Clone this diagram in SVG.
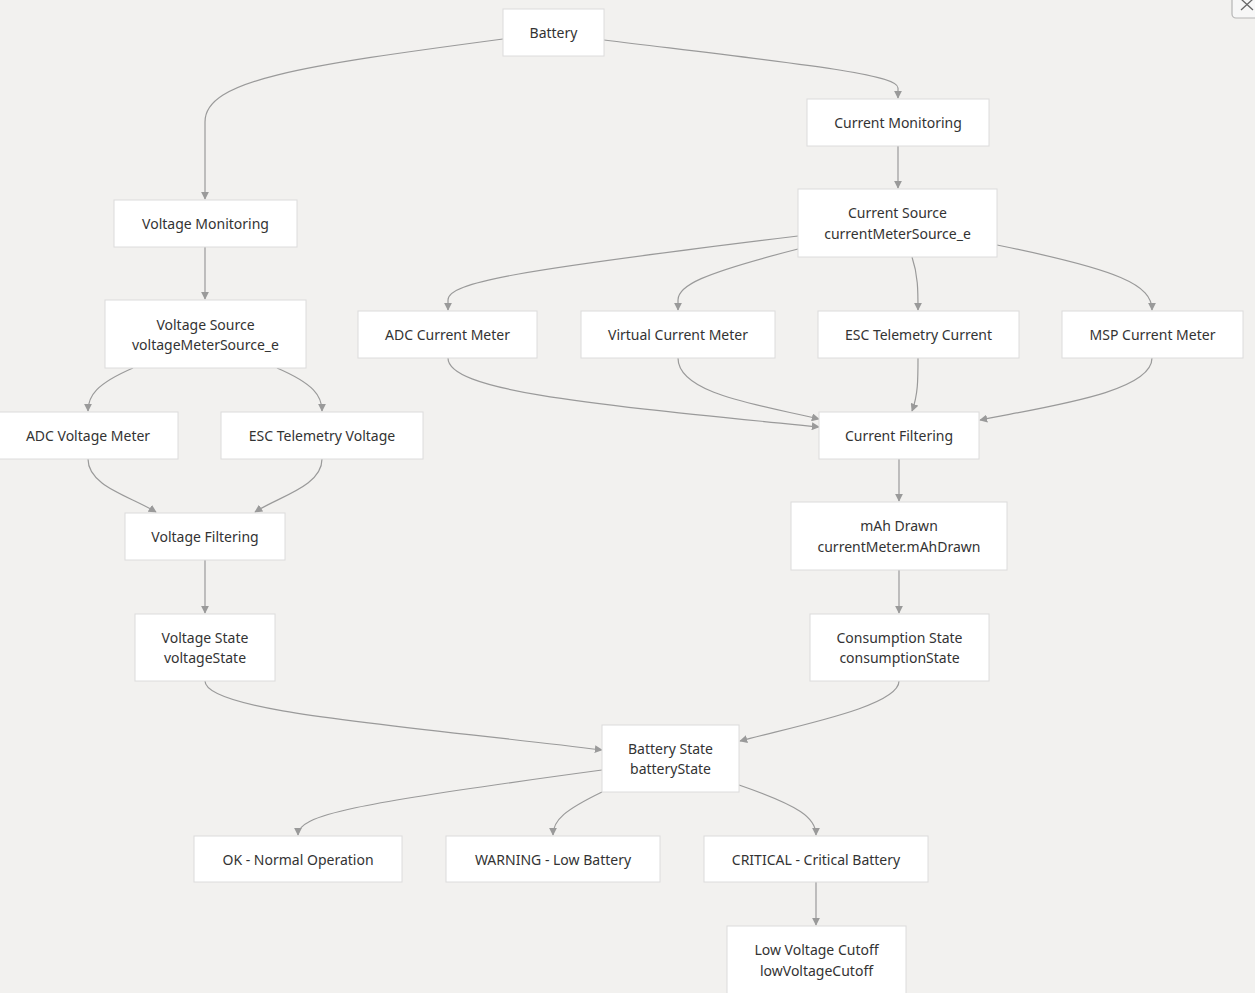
<svg xmlns="http://www.w3.org/2000/svg" width="1255" height="993" viewBox="0 0 1255 993">
<style>
.n rect{fill:#ffffff;stroke:#dcdcdc;stroke-width:1}
.n text{font-family:"Noto Sans","Open Sans","DejaVu Sans",sans-serif;font-size:14px;fill:#333333;text-anchor:middle;dominant-baseline:central}
.e path{fill:none;stroke:#9a9a9a;stroke-width:1.2;marker-end:url(#ah)}
</style>
<defs>
<marker id="ah" viewBox="0 0 10 10" refX="9" refY="5" markerWidth="8" markerHeight="8" markerUnits="userSpaceOnUse" orient="auto">
<path d="M0,0 L10,5 L0,10 z" fill="#9a9a9a"/>
</marker>
</defs>
<rect x="0" y="0" width="1255" height="993" fill="#f2f1ef"/>
<g id="closeBtn">
<rect x="1232" y="-8" width="32" height="26" rx="4" fill="#f7f7f7" stroke="#b5b5b5" stroke-width="1.2"/>
<path d="M1241,-1 L1253,10 M1253,-1 L1241,10" stroke="#666" stroke-width="1.3" fill="none"/>
</g>
<g id="connectors" class="e">
<path d="M503,39 C300,66 205,80 205,122 L205,199"/>
<path d="M604,40 C800,64 898,74 898,88 L898,98"/>
<path d="M898,146 L898,188"/>
<path d="M798,236 C520,270 448,282 448,300 L448,310"/>
<path d="M798,249 C700,274 678,286 678,300 L678,310"/>
<path d="M912,257 C918,275 918,290 918,310"/>
<path d="M997,245 C1120,270 1152,285 1152,310"/>
<path d="M205,247 L205,299"/>
<path d="M133,368 C96,384 88,396 88,411"/>
<path d="M277,368 C314,384 322,396 322,411"/>
<path d="M448,358 C448,392 600,405 819,427"/>
<path d="M678,358 C678,394 760,405 819,419"/>
<path d="M918,358 C918,380 918,395 912,411"/>
<path d="M1152,358 C1152,392 1050,406 980,420"/>
<path d="M88,459 C88,486 130,496 156,512"/>
<path d="M322,459 C322,486 280,496 255,512"/>
<path d="M205,560 L205,613"/>
<path d="M899,459 L899,501"/>
<path d="M899,570 L899,613"/>
<path d="M205,681 C205,712 400,725 602,750"/>
<path d="M899,681 C899,706 800,725 740,741"/>
<path d="M602,770 C350,804 298,815 298,835"/>
<path d="M602,792 C565,810 553,820 553,835"/>
<path d="M739,785 C800,806 816,818 816,835"/>
<path d="M816,882 L816,925"/>
</g>
<g id="battery" class="n"><rect x="503" y="9" width="101" height="47"/><text x="553.5" y="32.5">Battery</text></g>
<g id="currentMonitoring" class="n"><rect x="807" y="99" width="182" height="47"/><text x="898" y="122.5">Current Monitoring</text></g>
<g id="voltageMonitoring" class="n"><rect x="114" y="200" width="183" height="47"/><text x="205.5" y="223.5">Voltage Monitoring</text></g>
<g id="currentSource" class="n"><rect x="798" y="189" width="199" height="68"/><text x="897.5" y="212.5">Current Source</text><text x="897.5" y="233.5">currentMeterSource_e</text></g>
<g id="voltageSource" class="n"><rect x="105" y="300" width="201" height="68"/><text x="205.5" y="324">Voltage Source</text><text x="205.5" y="344.5">voltageMeterSource_e</text></g>
<g id="adcCurrentMeter" class="n"><rect x="358" y="311" width="179" height="47"/><text x="447.5" y="334.5">ADC Current Meter</text></g>
<g id="virtualCurrentMeter" class="n"><rect x="581" y="311" width="194" height="47"/><text x="678" y="334.5">Virtual Current Meter</text></g>
<g id="escTelemetryCurrent" class="n"><rect x="818" y="311" width="201" height="47"/><text x="918.5" y="334.5">ESC Telemetry Current</text></g>
<g id="mspCurrentMeter" class="n"><rect x="1062" y="311" width="181" height="47"/><text x="1152.5" y="334.5">MSP Current Meter</text></g>
<g id="adcVoltageMeter" class="n"><rect x="-2" y="412" width="180" height="47"/><text x="88" y="435.5">ADC Voltage Meter</text></g>
<g id="escTelemetryVoltage" class="n"><rect x="221" y="412" width="202" height="47"/><text x="322" y="435.5">ESC Telemetry Voltage</text></g>
<g id="currentFiltering" class="n"><rect x="819" y="412" width="160" height="47"/><text x="899" y="435.5">Current Filtering</text></g>
<g id="voltageFiltering" class="n"><rect x="125" y="513" width="160" height="47"/><text x="205" y="536.5">Voltage Filtering</text></g>
<g id="mahDrawn" class="n"><rect x="791" y="502" width="216" height="68"/><text x="899" y="525.5">mAh Drawn</text><text x="899" y="546.5">currentMeter.mAhDrawn</text></g>
<g id="voltageState" class="n"><rect x="135" y="614" width="140" height="67"/><text x="205" y="637">Voltage State</text><text x="205" y="657.5">voltageState</text></g>
<g id="consumptionState" class="n"><rect x="810" y="614" width="179" height="67"/><text x="899.5" y="637">Consumption State</text><text x="899.5" y="657.5">consumptionState</text></g>
<g id="batteryState" class="n"><rect x="602" y="725" width="137" height="67"/><text x="670.5" y="748.5">Battery State</text><text x="670.5" y="768.5">batteryState</text></g>
<g id="ok" class="n"><rect x="194" y="836" width="208" height="46"/><text x="298" y="859.5">OK - Normal Operation</text></g>
<g id="warning" class="n"><rect x="446" y="836" width="214" height="46"/><text x="553" y="859.5">WARNING - Low Battery</text></g>
<g id="critical" class="n"><rect x="704" y="836" width="224" height="46"/><text x="816" y="859.5">CRITICAL - Critical Battery</text></g>
<g id="lowVoltageCutoff" class="n"><rect x="727" y="926" width="179" height="68"/><text x="816.5" y="949.5">Low Voltage Cutoff</text><text x="816.5" y="970.5">lowVoltageCutoff</text></g>
</svg>
